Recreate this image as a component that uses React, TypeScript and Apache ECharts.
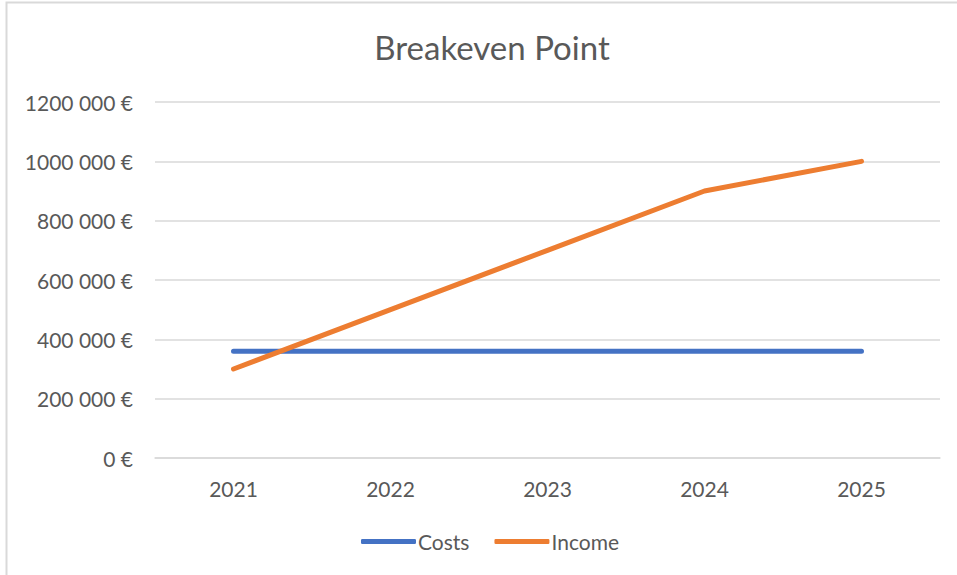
import React, { useEffect, useRef } from "react";
import * as echarts from "echarts";

const categories = ["2021", "2022", "2023", "2024", "2025"];
const costs = [360000, 360000, 360000, 360000, 360000];
const income = [300000, 500000, 700000, 900000, 1000000];
const yTicks = [0, 200000, 400000, 600000, 800000, 1000000, 1200000];

const FONT = "Lato, 'Open Sans', sans-serif";

function fmt(v: number): string {
  if (v === 0) return "0 €";
  const s = String(v);
  if (s.length <= 3) return s + " €";
  return s.slice(0, -3) + " " + s.slice(-3) + " €";
}

export default function App() {
  const ref = useRef<HTMLDivElement>(null);
  useEffect(() => {
    if (!ref.current) return;
    const chart = echarts.init(ref.current, undefined, { renderer: "svg" });
    chart.setOption({
      animation: false,
      backgroundColor: "#ffffff",
      title: {
        text: "Breakeven Point",
        left: 487,
        top: 25,
        textAlign: "center",
        textStyle: { fontFamily: FONT, fontSize: 33, fontWeight: "normal", color: "#595959" },
      },
      graphic: [
        {
          type: "rect",
          shape: { x: 6.5, y: 2.5, width: 1000, height: 1000 },
          style: { fill: "none", stroke: "#d9d9d9", lineWidth: 2 },
          silent: true,
        },
      ],
      legend: {
        bottom: 18,
        left: 356,
        itemWidth: 55,
        itemHeight: 5,
        itemGap: 25,
        icon: "roundRect",
        textStyle: { fontFamily: FONT, fontSize: 21, color: "#595959", padding: [0, 0, 0, -3] },
        data: ["Costs", "Income"],
      },
      grid: { left: 155, right: 17, top: 102, bottom: 117 },
      xAxis: {
        type: "category",
        data: categories,
        boundaryGap: true,
        axisLine: { lineStyle: { color: "#d9d9d9", width: 1.5 } },
        axisTick: { show: false },
        axisLabel: { fontFamily: FONT, fontSize: 21, color: "#595959", margin: 20 },
      },
      yAxis: {
        type: "value",
        min: yTicks[0],
        max: yTicks[yTicks.length - 1],
        interval: yTicks[1] - yTicks[0],
        axisLine: { show: false },
        axisTick: { show: false },
        splitLine: { lineStyle: { color: "#d9d9d9", width: 1.5 } },
        axisLabel: {
          fontFamily: FONT,
          fontSize: 21,
          color: "#595959",
          margin: 22,
          formatter: (v: number) => fmt(v),
        },
      },
      series: [
        {
          name: "Costs",
          type: "line",
          data: costs,
          symbol: "none",
          lineStyle: { color: "#4472C4", width: 5, cap: "round" },
          itemStyle: { color: "#4472C4" },
        },
        {
          name: "Income",
          type: "line",
          data: income,
          symbol: "none",
          lineStyle: { color: "#ED7D31", width: 5, cap: "round" },
          itemStyle: { color: "#ED7D31" },
        },
      ],
    });
    return () => chart.dispose();
  }, []);
  return (
    <div
      ref={ref}
      style={{ position: "fixed", left: 0, top: 0, width: 957, height: 575 }}
    />
  );
}
